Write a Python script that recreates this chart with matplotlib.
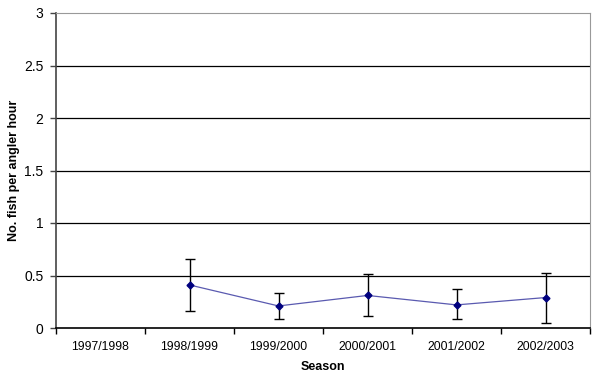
import matplotlib
matplotlib.use("Agg")
import matplotlib.pyplot as plt
import numpy as np

seasons = ["1997/1998", "1998/1999", "1999/2000", "2000/2001", "2001/2002", "2002/2003"]
catch_rate = [np.nan, 0.41, 0.21, 0.31, 0.22, 0.29]
err_upper = [np.nan, 0.66, 0.335, 0.51, 0.37, 0.525]
err_lower = [np.nan, 0.165, 0.09, 0.11, 0.09, 0.045]
yticks = [0, 0.5, 1, 1.5, 2, 2.5, 3]
ytick_labels = ["0", "0.5", "1", "1.5", "2", "2.5", "3"]

plt.rcParams['font.family'] = ['Liberation Sans', 'DejaVu Sans']

fig = plt.figure(figsize=(6.0, 3.82), dpi=100)
ax = fig.add_axes([56/600, 1-328/382, (590-56)/600, (328-13)/382])

x = np.arange(len(seasons))
y = np.array(catch_rate)
lo = y - np.array(err_lower)
hi = np.array(err_upper) - y

for yt in yticks[1:-1]:
    ax.axhline(yt, color='black', lw=0.9, zorder=1)

ax.errorbar(x, y, yerr=[lo, hi], fmt='none', ecolor='black', elinewidth=1.0,
            capsize=3.5, capthick=1.0, zorder=2)
ax.plot(x, y, color='#5a5ab0', lw=0.9, zorder=3)
ax.plot(x, y, linestyle='none', marker='D', markersize=3.5, color='#00007f', zorder=4)

ax.set_xlim(-0.5, len(seasons) - 0.5)
ax.set_ylim(0, 3)
ax.set_yticks(yticks)
ax.set_yticklabels(ytick_labels, fontsize=10)
ax.set_xticks(x)
ax.set_xticklabels(seasons, fontsize=8.8)
ax.tick_params(axis='x', length=0, pad=9)
ax.set_xticks(np.arange(-0.5, len(seasons), 1), minor=True)
ax.tick_params(axis='x', which='minor', length=4, width=1, color='black', direction='out')
ax.tick_params(axis='y', length=4, width=1, color='#444444', direction='out', pad=5)

ax.spines['left'].set_color('#444444')
ax.spines['left'].set_linewidth(1.2)
ax.spines['bottom'].set_color('black')
ax.spines['bottom'].set_linewidth(1.2)
ax.spines['top'].set_color('#999999')
ax.spines['right'].set_color('#999999')

ax.set_xlabel("Season", fontsize=9, fontweight='bold', labelpad=6)
ax.set_ylabel("No. fish per angler hour", fontsize=9, fontweight='bold')
ax.yaxis.set_label_coords((20 - 56) / 534, 0.5)

fig.savefig("out.png", dpi=100)
